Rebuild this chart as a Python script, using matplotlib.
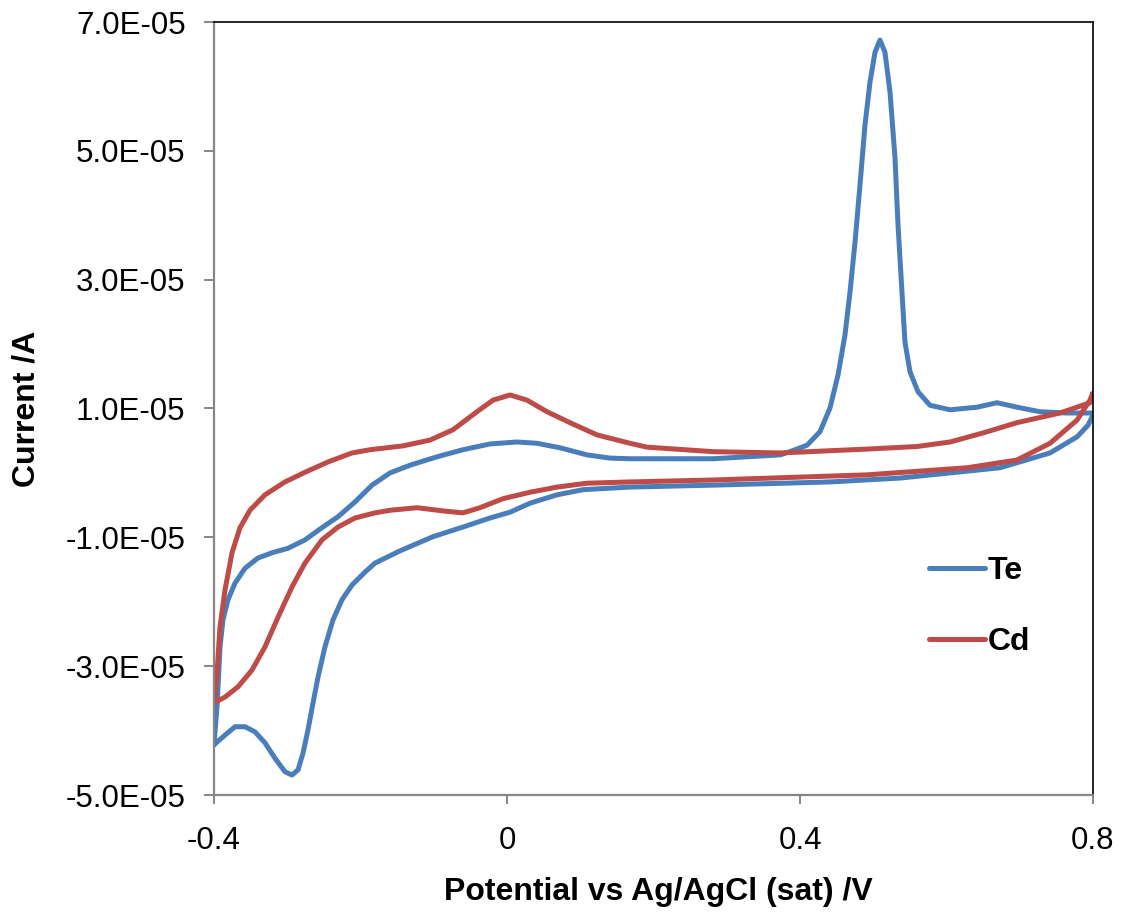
import matplotlib

matplotlib.use("Agg")
import matplotlib.pyplot as plt
from matplotlib.ticker import FixedLocator, FuncFormatter

plt.rcParams["font.family"] = ["Liberation Sans", "DejaVu Sans"]

# potential (V) and current (1E-05 A), read off the reference loops
# each loop: anodic branch left -> right, then cathodic branch right -> left
te_potential = [
    -0.4, -0.3959, -0.3918, -0.3877, -0.3809, -0.3713, -0.3577, -0.3399,
    -0.3208, -0.2990, -0.2758, -0.2526, -0.2307, -0.2075, -0.1843, -0.1597,
    -0.1324, -0.0956, -0.0601, -0.0232, 0.0137, 0.0410, 0.0724, 0.1092,
    0.1406, 0.1679, 0.2812, 0.3727, 0.3863, 0.4096, 0.4273, 0.4410, 0.4519,
    0.4614, 0.4683, 0.4751, 0.4819, 0.4887, 0.4956, 0.5024, 0.5092, 0.5160,
    0.5229, 0.5297, 0.5338, 0.5392, 0.5433, 0.5502, 0.5611, 0.5775, 0.6048,
    0.6416, 0.6689, 0.6962, 0.7276, 0.7645, 0.8,
    0.8, 0.7932, 0.7782, 0.7413, 0.6730, 0.5365, 0.4410, 0.2812, 0.1679,
    0.1038, 0.0683, 0.0314, 0.0041, -0.0232, -0.0601, -0.1010,
    -0.1461, -0.1802, -0.1939, -0.2116, -0.2253, -0.2375, -0.2485, -0.2580,
    -0.2648, -0.2717, -0.2785, -0.2853, -0.2935, -0.3031, -0.3167, -0.3304,
    -0.3440, -0.3577, -0.3713, -0.3850, -0.4,
]
te_current = [
    -4.22, -3.63, -2.70, -2.28, -1.97, -1.71, -1.48, -1.32,
    -1.24, -1.17, -1.04, -0.85, -0.68, -0.45, -0.19, 0.00,
    0.12, 0.25, 0.36, 0.45, 0.48, 0.46, 0.39, 0.28,
    0.23, 0.22, 0.22, 0.28, 0.33, 0.43, 0.64, 1.01, 1.52,
    2.14, 2.81, 3.58, 4.47, 5.40, 6.07, 6.53, 6.72, 6.53,
    5.91, 4.89, 3.85, 2.81, 2.03, 1.57, 1.26, 1.05, 0.98,
    1.02, 1.09, 1.02, 0.95, 0.93, 0.93,
    0.90, 0.74, 0.56, 0.31, 0.08, -0.08, -0.14, -0.19, -0.22,
    -0.26, -0.34, -0.47, -0.61, -0.70, -0.84, -0.99,
    -1.21, -1.40, -1.54, -1.74, -1.97, -2.28, -2.70, -3.17,
    -3.57, -3.99, -4.35, -4.61, -4.69, -4.64, -4.43, -4.19,
    -4.02, -3.94, -3.94, -4.07, -4.22,
]

cd_potential = [
    -0.4, -0.3959, -0.3918, -0.3850, -0.3754, -0.3645, -0.3509, -0.3304,
    -0.3031, -0.2758, -0.2444, -0.2116, -0.1870, -0.1420, -0.1051, -0.0737,
    -0.0410, -0.0191, 0.0041, 0.0273, 0.0546, 0.0860, 0.1229, 0.1679,
    0.1911, 0.2812, 0.3727, 0.4915, 0.5597, 0.6048, 0.6498, 0.6962, 0.7549,
    0.7959, 0.8,
    0.7959, 0.7782, 0.7413, 0.6962, 0.6280, 0.4915, 0.2812, 0.1679, 0.1092,
    0.0683, 0.0314, -0.0055, -0.0369, -0.0601, -0.0874, -0.1229, -0.1597,
    -0.1802, -0.2075, -0.2307, -0.2526, -0.2758, -0.2935, -0.3126, -0.3304,
    -0.3481, -0.3672, -0.3850, -0.4,
]
cd_current = [
    -3.57, -3.11, -2.39, -1.82, -1.24, -0.85, -0.58, -0.34,
    -0.14, 0.01, 0.17, 0.31, 0.36, 0.42, 0.51, 0.67,
    0.95, 1.13, 1.21, 1.13, 0.95, 0.78, 0.59, 0.46,
    0.40, 0.33, 0.31, 0.37, 0.41, 0.48, 0.62, 0.78, 0.93,
    1.09, 1.24,
    1.13, 0.82, 0.46, 0.20, 0.08, -0.03, -0.11, -0.14, -0.16,
    -0.22, -0.30, -0.40, -0.54, -0.62, -0.59, -0.54, -0.58,
    -0.62, -0.70, -0.84, -1.04, -1.40, -1.77, -2.24, -2.70,
    -3.06, -3.32, -3.48, -3.57,
]

x_ticks = [-0.4, 0, 0.4, 0.8]
x_tick_labels = ["-0.4", "0", "0.4", "0.8"]
y_ticks = [-5e-5, -3e-5, -1e-5, 1e-5, 3e-5, 5e-5, 7e-5]

TE_COLOR = "#4a7ebb"
CD_COLOR = "#be4b48"
AXIS_GRAY = "#868686"

fig = plt.figure(figsize=(11.21, 9.21), dpi=100)
ax = fig.add_axes([214 / 1121, 1 - 795 / 921, 879 / 1121, 773 / 921])

ax.plot(te_potential, [c * 1e-5 for c in te_current], color=TE_COLOR,
        lw=3.6, solid_joinstyle="round", solid_capstyle="round", label="Te")
ax.plot(cd_potential, [c * 1e-5 for c in cd_current], color=CD_COLOR,
        lw=3.6, solid_joinstyle="round", solid_capstyle="round", label="Cd")

ax.set_xlim(-0.4, 0.8)
ax.set_ylim(-5e-5, 7e-5)
ax.xaxis.set_major_locator(FixedLocator(x_ticks))
ax.set_xticklabels(x_tick_labels)
ax.yaxis.set_major_locator(FixedLocator(y_ticks))
ax.yaxis.set_major_formatter(FuncFormatter(lambda v, p: f"{v:.1E}"))

for side in ("left", "bottom"):
    ax.spines[side].set_color(AXIS_GRAY)
    ax.spines[side].set_linewidth(1.6)
for side in ("top", "right"):
    ax.spines[side].set_color("black")
    ax.spines[side].set_linewidth(1.2)

ax.tick_params(axis="y", direction="out", length=7.5, width=1.4,
               color=AXIS_GRAY, labelsize=22.5, pad=13)
ax.tick_params(axis="x", direction="out", length=6.5, width=1.4,
               color=AXIS_GRAY, labelsize=22.5, pad=16)

ax.set_xlabel("Potential vs Ag/AgCl (sat) /V", fontsize=23, fontweight="bold")
ax.set_ylabel("Current /A", fontsize=23, fontweight="bold")
ax.xaxis.set_label_coords(0.506, -0.106)
ax.yaxis.set_label_coords(-0.196, 0.5)

ax.legend(loc="upper left", bbox_to_anchor=(0.8134, 0.309), frameon=False,
          prop={"size": 23, "weight": "bold"}, handlelength=1.75,
          handletextpad=0.1, labelspacing=1.28, borderpad=0,
          borderaxespad=0)

fig.savefig("out.png", dpi=100)
